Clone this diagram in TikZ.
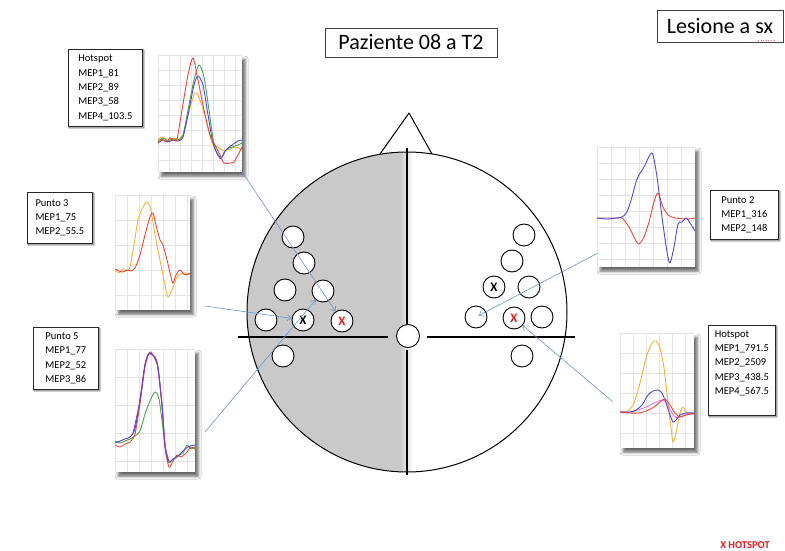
\documentclass[tikz,border=0pt]{standalone}
\usepackage{fontspec}
\setmainfont{Carlito}
\usetikzlibrary{arrows.meta,shadows.blur}

\tikzset{
    electrode/.style={circle, draw, fill=white, line width=0.9pt, minimum size=22pt, inner sep=0pt,
        font=\bfseries\fontsize{13}{13}\selectfont},
    infobox/.style={draw=black!85, fill=white, line width=0.7pt, anchor=north west, align=left,
        inner xsep=6pt, inner ysep=3pt, font=\fontsize{10.5}{14.3}\selectfont,
        blur shadow={shadow xshift=1.3pt, shadow yshift=-1.3pt, shadow blur radius=1pt, shadow opacity=55}},
    titlebox/.style={draw=black!75, fill=white, line width=0.6pt, inner sep=0pt,
        font=\fontsize{22}{24}\selectfont},
    mepframe/.style={fill=white, anchor=north west, inner sep=0pt,
        blur shadow={shadow xshift=3pt, shadow yshift=-4pt, shadow blur radius=3pt, shadow opacity=60}},
    gridline/.style={draw=gridGrey, line width=0.5pt},
    trace/.style={line width=0.9pt, line join=round},
    pointer/.style={draw=pointerBlue, line width=0.6pt, -{Straight Barb[length=4pt,width=6pt]}},
}

% grid of a MEP panel: width, height, column step, row step
\newcommand{\mepgrid}[4]{%
    \foreach \gx in {0,#3,...,#1} \draw[gridline] (\gx,0) -- (\gx,#2);
    \foreach \gy in {0,#4,...,#2} \draw[gridline] (0,\gy) -- (#1,\gy);
}

\begin{document}
\begin{tikzpicture}[x=1pt, y=-1pt]
    \definecolor{headGrey}{HTML}{C9C9C9}
    \definecolor{gridGrey}{HTML}{E4E4E4}
    \definecolor{pointerBlue}{HTML}{6C96C8}
    \definecolor{traceRed}{HTML}{E8483C}
    \definecolor{traceGreen}{HTML}{45A548}
    \definecolor{traceBlue}{HTML}{4B4BD2}
    \definecolor{traceYellow}{HTML}{F2B430}
    \definecolor{tracePink}{HTML}{E07AD8}
    \definecolor{tracePurple}{HTML}{8A3CC0}
    \definecolor{hotRed}{HTML}{E01E1E}

    \useasboundingbox[fill=white] (0,0) rectangle (785,551);

    % head, left half shaded
    \coordinate (head) at (407,312);
    \begin{scope}
        \clip (head) circle[radius=160pt];
        \fill[headGrey] (240,140) rectangle (400,480);
        \shade[left color=headGrey, right color=white] (400,140) rectangle (413,480);
    \end{scope}
    \draw[line width=1pt, line join=round] (380,154) -- (409,113) -- (432,154);
    \draw[line width=1pt] (head) circle[radius=160pt];

    \draw[line width=1.1pt] (407,148) -- (407,324);
    \draw[line width=1.1pt] (407,350) -- (407,475);
    \draw[line width=1.1pt] (238,337) -- (388,337);
    \draw[line width=1.1pt] (427,337) -- (575,337);

    % electrodes
    \node[electrode, minimum size=23pt] (cz) at (408,336) {};

    \node[electrode] (l1) at (293,237) {};
    \node[electrode] (l2) at (304,263) {};
    \node[electrode] (l3) at (285,290) {};
    \node[electrode] (l4) at (323,291) {};
    \node[electrode] (l5) at (266,320) {};
    \node[electrode] (l6) at (303,320) {X};
    \node[electrode, text=hotRed] (l7) at (342,321) {X};
    \node[electrode] (l8) at (283,356) {};

    \node[electrode] (r1) at (524,235) {};
    \node[electrode] (r2) at (512,261) {};
    \node[electrode] (r3) at (494,287) {X};
    \node[electrode] (r4) at (529,287) {};
    \node[electrode] (r5) at (476,317) {};
    \node[electrode, text=hotRed] (r6) at (514,318) {X};
    \node[electrode] (r7) at (542,317) {};
    \node[electrode] (r8) at (522,356) {};

    % titles
    \node[titlebox, minimum width=172pt, minimum height=29pt] (patient) at (411,42.5) {Paziente 08 a T2};
    \node[titlebox, minimum width=126pt, minimum height=32pt] (side) at (720,26) {Lesione a sx};
    \draw[hotRed!70, line width=0.6pt, dotted] (758,40) -- (774,40);

    \node[text=hotRed, font=\bfseries\fontsize{10.5}{12}\selectfont] (legend) at (745,545) {X HOTSPOT};

    % MEP panels
    \node[mepframe, minimum width=84pt, minimum height=117pt] (mepA) at (158,55) {};
    \node[mepframe, minimum width=75pt, minimum height=115pt] (mepB) at (115,195) {};
    \node[mepframe, minimum width=80pt, minimum height=123pt] (mepC) at (115,349) {};
    \node[mepframe, minimum width=98pt, minimum height=120pt] (mepD) at (597,147) {};
    \node[mepframe, minimum width=74pt, minimum height=115pt] (mepE) at (620,333) {};

    \begin{scope}[shift={(mepA.north west)}]
        \clip (0,0) rectangle (84,117);
        \mepgrid{84}{117}{11}{15}
        \draw[trace, traceYellow] plot[smooth, tension=0.45] coordinates {(0,84) (5,82) (10,86) (15,83) (20,84) (25,80) (30,60) (37,38) (42,45) (48,65) (54,88) (60,92) (66,96) (72,94) (78,92) (84,95)};
        \draw[trace, traceGreen] plot[smooth, tension=0.45] coordinates {(0,86) (5,83) (10,86) (15,84) (20,85) (25,80) (30,55) (36,25) (41,10) (46,22) (51,55) (56,90) (60,100) (64,102) (68,95) (74,92) (80,90) (84,88)};
        \draw[trace, traceBlue] plot[smooth, tension=0.45] coordinates {(0,88) (5,85) (10,87) (15,85) (20,86) (25,82) (30,60) (36,30) (40,21) (45,30) (50,60) (55,88) (60,100) (63,104) (67,96) (74,90) (80,86) (84,85)};
        \draw[trace, traceRed] plot[smooth, tension=0.45] coordinates {(0,88) (4,84) (8,87) (12,83) (16,85) (19,84) (24,55) (30,20) (35,3) (40,25) (46,55) (52,80) (57,90) (62,100) (66,108) (72,108) (76,107) (80,100) (84,92)};
    \end{scope}

    \begin{scope}[shift={(mepB.north west)}]
        \clip (0,0) rectangle (75,115);
        \mepgrid{75}{115}{12}{25}
        \draw[trace, traceYellow] plot[smooth, tension=0.45] coordinates {(0,74) (4,78) (8,74) (12,76) (15,72) (19,50) (23,25) (28,12) (32,7) (36,15) (40,40) (45,65) (50,90) (53,102) (57,95) (62,82) (68,78) (75,80)};
        \draw[trace, traceRed] plot[smooth, tension=0.45] coordinates {(0,74) (4,76) (8,77) (12,75) (16,76) (20,73) (25,60) (30,40) (35,22) (38,18) (41,30) (45,45) (48,50) (52,65) (56,82) (58,88) (61,80) (65,75) (70,80) (75,78)};
    \end{scope}

    \begin{scope}[shift={(mepC.north west)}]
        \clip (0,0) rectangle (80,123);
        \mepgrid{80}{123}{12}{28}
        \draw[trace, traceGreen] plot[smooth, tension=0.45] coordinates {(0,92) (5,94) (10,92) (15,90) (20,87) (25,82) (30,65) (35,52) (40,43) (44,50) (48,80) (51,105) (54,114) (58,110) (64,106) (68,104) (72,96) (76,100) (80,98)};
        \draw[trace, traceRed] plot[smooth, tension=0.45] coordinates {(0,96) (5,98) (10,95) (15,93) (20,85) (25,55) (30,18) (35,3) (40,10) (43,20) (47,58) (50,98) (54,118) (58,112) (62,106) (66,108) (72,103) (76,98) (80,100)};
        \draw[trace, traceBlue] plot[smooth, tension=0.45] coordinates {(0,94) (5,92) (10,90) (15,88) (20,80) (25,50) (30,15) (34,5) (40,8) (43,18) (47,55) (50,95) (54,112) (58,110) (62,108) (66,104) (70,100) (75,97) (80,96)};
        \draw[trace, tracePurple] plot[smooth, tension=0.45] coordinates {(18,84) (25,52) (30,16) (34,4) (40,9) (43,19) (47,56) (50,96) (53,112)};
    \end{scope}

    \begin{scope}[shift={(mepD.north west)}]
        \clip (0,0) rectangle (98,120);
        \mepgrid{98}{120}{14}{16}
        \draw[trace, traceRed] plot[smooth, tension=0.45] coordinates {(0,71) (10,71) (20,71) (25,71) (32,80) (38,92) (42,97) (47,90) (52,75) (57,55) (61,46) (66,60) (71,68) (78,71) (90,72) (98,71)};
        \draw[trace, traceBlue] plot[smooth, tension=0.45] coordinates {(0,71) (10,72) (20,71) (25,70) (30,65) (35,50) (40,32) (47,20) (55,6) (60,30) (65,70) (70,105) (73,116) (77,100) (81,77) (85,75) (89,71) (93,76) (98,84)};
    \end{scope}

    \begin{scope}[shift={(mepE.north west)}]
        \clip (0,0) rectangle (74,115);
        \mepgrid{74}{115}{13}{20}
        \draw[trace, traceYellow] plot[smooth, tension=0.45] coordinates {(0,79) (8,78) (14,70) (20,50) (26,25) (32,10) (36,8) (40,15) (44,35) (48,70) (51,95) (53,109) (56,100) (60,80) (63,74) (67,80) (74,81)};
        \draw[trace, tracePink] plot[smooth, tension=0.45] coordinates {(0,79) (10,79) (18,77) (26,74) (34,70) (42,67) (46,69) (50,76) (54,83) (58,85) (64,82) (74,81)};
        \draw[trace, traceBlue] plot[smooth, tension=0.45] coordinates {(0,79) (10,79) (16,77) (22,72) (28,62) (33,58) (38,57) (42,60) (46,70) (50,82) (53,89) (56,87) (60,82) (66,80) (74,80)};
        \draw[trace, traceRed] plot[smooth, tension=0.45] coordinates {(0,79) (10,80) (18,80) (26,78) (34,74) (40,69) (45,66) (50,72) (55,80) (60,84) (66,82) (74,80)};
    \end{scope}

    % amplitude boxes
    \node[infobox, minimum width=74pt, minimum height=77pt] (boxA) at (68,49) {Hotspot\\MEP1\_81\\MEP2\_89\\MEP3\_58\\MEP4\_103.5};
    \node[infobox, minimum width=65pt, minimum height=51pt] (boxB) at (27,192) {Punto 3\\MEP1\_75\\MEP2\_55.5};
    \node[infobox, minimum width=65pt, minimum height=62pt] (boxC) at (33,327) {Punto 5\\MEP1\_77\\MEP2\_52\\MEP3\_86};
    \node[infobox, minimum width=68pt, minimum height=49pt] (boxD) at (710,190) {Punto 2\\MEP1\_316\\MEP2\_148};
    \node[infobox, minimum width=67pt, minimum height=90pt, text depth=16pt] (boxE) at (708,325) {Hotspot\\MEP1\_791.5\\MEP2\_2509\\MEP3\_438.5\\MEP4\_567.5};

    % pointers from panels to electrodes
    \coordinate (tailB) at (205,306);
    \coordinate (tailC) at (205,432);
    \coordinate (tailD) at (598,253);
    \coordinate (tailE) at (613,402);

    \draw[pointer] (mepA.south east) -- (l7);
    \draw[pointer] (tailB) -- (l6);
    \draw[pointer] (tailC) -- (l4);
    \draw[pointer, shorten >=3pt] (tailD) -- (r5.center);
    \draw[pointer] (tailE) -- (r6);

\end{tikzpicture}
\end{document}
